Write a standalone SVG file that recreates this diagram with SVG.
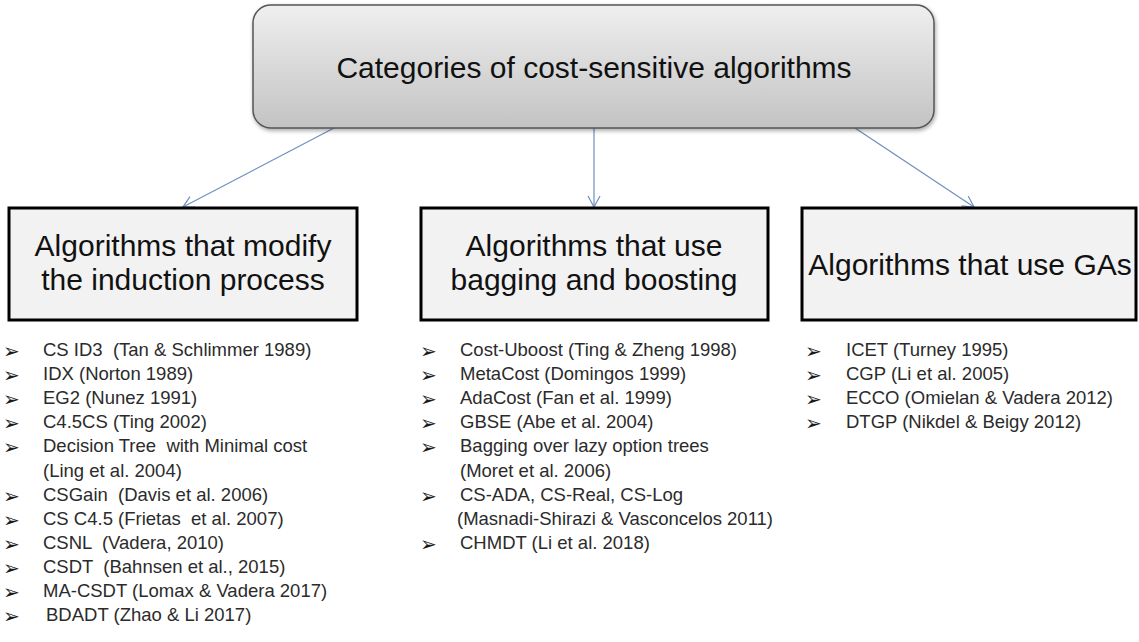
<svg xmlns="http://www.w3.org/2000/svg" width="1139" height="642" viewBox="0 0 1139 642">
<defs>
<linearGradient id="g" x1="0" y1="0" x2="0" y2="1">
<stop offset="0" stop-color="#efefef"/>
<stop offset="1" stop-color="#c3c3c3"/>
</linearGradient>
<filter id="sh" x="-5%" y="-10%" width="110%" height="130%">
<feGaussianBlur in="SourceAlpha" stdDeviation="2"/>
<feOffset dx="1" dy="2" result="b"/>
<feComponentTransfer><feFuncA type="linear" slope="0.35"/></feComponentTransfer>
<feMerge><feMergeNode/><feMergeNode in="SourceGraphic"/></feMerge>
</filter>
<marker id="ah" markerWidth="14" markerHeight="14" refX="12" refY="7" orient="auto" markerUnits="userSpaceOnUse">
<path d="M1,1 L12,7 L1,13" fill="none" stroke="#6d8fbf" stroke-width="1.2"/>
</marker>
</defs>
<style>
.t{font-family:"Liberation Sans",Arial,sans-serif;fill:#111;}
.h{font-size:30px;text-anchor:middle;}
.bx{fill:#f2f2f2;stroke:#000;stroke-width:3;}
.li{font-family:"Liberation Sans",Arial,sans-serif;font-size:18.5px;fill:#2b2b2b;white-space:pre;}
.bu{font-family:"DejaVu Sans",sans-serif;font-size:20px;fill:#1a1a1a;}
.c{stroke:#6d8fbf;stroke-width:1.2;fill:none;marker-end:url(#ah);}
</style>
<rect width="1139" height="642" fill="#fff"/>
<g id="connectors">
<line class="c" x1="334" y1="128" x2="183" y2="207"/>
<line class="c" x1="594" y1="128" x2="594" y2="207"/>
<line class="c" x1="855" y1="128" x2="974" y2="207"/>
</g>
<g id="root">
<rect x="253" y="5" width="681" height="123" rx="18" fill="url(#g)" stroke="#555" stroke-width="1.5" filter="url(#sh)"/>
<text class="t h" x="594" y="78">Categories of cost-sensitive algorithms</text>
</g>
<g id="induction">
<rect class="bx" x="9" y="208" width="348" height="112"/>
<text class="t h" x="183" y="256">Algorithms that modify</text>
<text class="t h" x="183" y="290">the induction process</text>
</g>
<g id="bagging">
<rect class="bx" x="421" y="208" width="347" height="112"/>
<text class="t h" x="594" y="256">Algorithms that use</text>
<text class="t h" x="594" y="290">bagging and boosting</text>
</g>
<g id="ga">
<rect class="bx" x="802" y="208" width="334" height="112"/>
<text class="t h" x="970" y="275">Algorithms that use GAs</text>
</g>
<g id="list-induction">
<text class="bu" x="3" y="358">➢</text><text class="li" x="43" y="356">CS ID3  (Tan &amp; Schlimmer 1989)</text>
<text class="bu" x="3" y="382">➢</text><text class="li" x="43" y="380">IDX (Norton 1989)</text>
<text class="bu" x="3" y="406">➢</text><text class="li" x="43" y="404">EG2 (Nunez 1991)</text>
<text class="bu" x="3" y="430">➢</text><text class="li" x="43" y="428">C4.5CS (Ting 2002)</text>
<text class="bu" x="3" y="454">➢</text><text class="li" x="43" y="452">Decision Tree  with Minimal cost</text>
<text class="li" x="43" y="477">(Ling et al. 2004)</text>
<text class="bu" x="3" y="503">➢</text><text class="li" x="43" y="501">CSGain  (Davis et al. 2006)</text>
<text class="bu" x="3" y="527">➢</text><text class="li" x="43" y="525">CS C4.5 (Frietas  et al. 2007)</text>
<text class="bu" x="3" y="551">➢</text><text class="li" x="43" y="549">CSNL  (Vadera, 2010)</text>
<text class="bu" x="3" y="575">➢</text><text class="li" x="43" y="573">CSDT  (Bahnsen et al., 2015)</text>
<text class="bu" x="3" y="599">➢</text><text class="li" x="43" y="597">MA-CSDT (Lomax &amp; Vadera 2017)</text>
<text class="bu" x="3" y="623">➢</text><text class="li" x="46" y="621">BDADT (Zhao &amp; Li 2017)</text>
</g>
<g id="list-bagging">
<text class="bu" x="420" y="358">➢</text><text class="li" x="460" y="356">Cost-Uboost (Ting &amp; Zheng 1998)</text>
<text class="bu" x="420" y="382">➢</text><text class="li" x="460" y="380">MetaCost (Domingos 1999)</text>
<text class="bu" x="420" y="406">➢</text><text class="li" x="460" y="404">AdaCost (Fan et al. 1999)</text>
<text class="bu" x="420" y="430">➢</text><text class="li" x="460" y="428">GBSE (Abe et al. 2004)</text>
<text class="bu" x="420" y="454">➢</text><text class="li" x="460" y="452">Bagging over lazy option trees</text>
<text class="li" x="460" y="477">(Moret et al. 2006)</text>
<text class="bu" x="420" y="503">➢</text><text class="li" x="460" y="501">CS-ADA, CS-Real, CS-Log</text>
<text class="li" x="457" y="525">(Masnadi-Shirazi &amp; Vasconcelos 2011)</text>
<text class="bu" x="420" y="551">➢</text><text class="li" x="460" y="549">CHMDT (Li et al. 2018)</text>
</g>
<g id="list-ga">
<text class="bu" x="805" y="358">➢</text><text class="li" x="846" y="356">ICET (Turney 1995)</text>
<text class="bu" x="805" y="382">➢</text><text class="li" x="846" y="380">CGP (Li et al. 2005)</text>
<text class="bu" x="805" y="406">➢</text><text class="li" x="846" y="404">ECCO (Omielan &amp; Vadera 2012)</text>
<text class="bu" x="805" y="430">➢</text><text class="li" x="846" y="428">DTGP (Nikdel &amp; Beigy 2012)</text>
</g>
</svg>
